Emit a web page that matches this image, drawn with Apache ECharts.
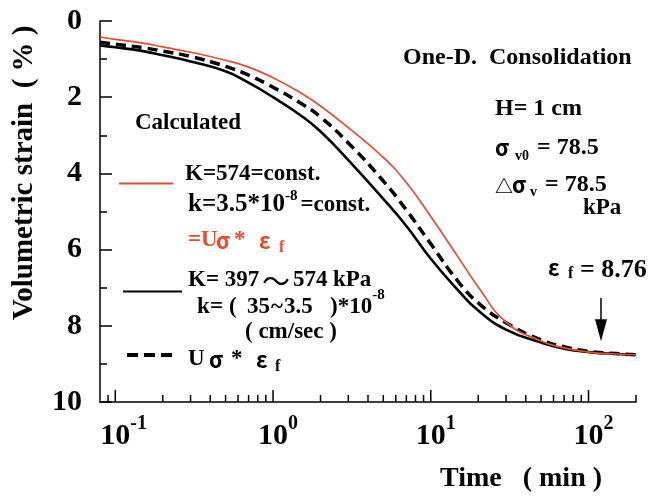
<!DOCTYPE html>
<html>
<head>
<meta charset="utf-8">
<script src="https://cdn.jsdelivr.net/npm/echarts@6/dist/echarts.min.js"></script>
<style>
  html, body { margin: 0; padding: 0; background: #fff; }
  #chart { width: 651px; height: 500px; }
</style>
</head>
<body>
<div id="chart"></div>
<script>
// Elapsed time (min), shared by the three calculated curves
const times = [0.08, 0.1, 0.15, 0.2, 0.3, 0.5, 0.7, 1, 1.5, 2, 3, 5, 7, 10, 15, 20, 30, 50, 70, 100, 150, 200];

// Volumetric strain (%) — constant K = 574, k = 3.5e-8
const strainConstK = [0.42, 0.48, 0.58, 0.68, 0.82, 1.03, 1.21, 1.49, 1.89, 2.23, 2.80, 3.58, 4.24, 5.13, 6.21, 6.98, 7.90, 8.40, 8.58, 8.69, 8.74, 8.76];
// Volumetric strain (%) — K = 397~574 kPa, k = (35~3.5)e-8
const strainVarK = [0.64, 0.69, 0.79, 0.90, 1.06, 1.32, 1.62, 2.00, 2.48, 2.90, 3.65, 4.67, 5.38, 6.24, 7.08, 7.60, 8.10, 8.44, 8.60, 8.69, 8.74, 8.76];
// Volumetric strain (%) — U_sigma * eps_f
const strainUSigma = [0.56, 0.61, 0.70, 0.79, 0.93, 1.19, 1.42, 1.74, 2.16, 2.52, 3.20, 4.20, 4.96, 5.85, 6.85, 7.40, 7.92, 8.37, 8.55, 8.67, 8.73, 8.76];

// Time axis ticks (log scale)
const xMajorTicks = [0.1, 1, 10, 100];
const xMajorExponents = ['-1', '0', '1', '2'];
const xMinorTicks = [0.09, 0.2, 0.3, 0.4, 0.5, 0.6, 0.7, 0.8, 0.9,
                     2, 3, 4, 5, 6, 7, 8, 9,
                     20, 30, 40, 50, 60, 70, 80, 90, 200];

// Strain axis
const yMin = 0, yMax = 10, yStep = 2;

// Final strain and the arrow pointing at it
const finalStrain = 8.76;
const arrowTime = 120;
const arrowFrom = 7.27;
const arrowTo = 8.12;

const RED = '#ea4b2d';
const serif = '"Liberation Serif", "Times New Roman", serif';
const greek = '"Noto Sans CJK JP", "Noto Sans", sans-serif';

const measureCtx = document.createElement('canvas').getContext('2d');
function fontOf(size, family, weight) {
  return (weight || 'bold') + ' ' + size + 'px ' + (family || serif);
}
function textWidth(text, font) {
  measureCtx.font = font;
  return measureCtx.measureText(text).width;
}

function txt(x, y, text, size, opt) {
  opt = opt || {};
  return {
    type: 'text', x: x, y: y, z: 20, silent: true,
    rotation: opt.rotation || 0,
    style: {
      text: text,
      fill: opt.color || '#000',
      font: fontOf(size, opt.font, opt.weight),
      align: opt.align || 'left',
      verticalAlign: 'middle'
    }
  };
}
// Lays out pieces one after another (base text, super/subscripts)
function run(x, y, parts, color) {
  const out = [];
  let cx = x;
  parts.forEach(p => {
    cx += p.gap || 0;
    const opt = { color: color, font: p.font, weight: p.weight };
    out.push(txt(cx, y + (p.dy || 0), p.t, p.size, opt));
    cx += textWidth(p.t, fontOf(p.size, p.font, p.weight));
  });
  return out;
}
function hline(x1, x2, y, color, width, dash) {
  return {
    type: 'line', z: 20, silent: true,
    shape: { x1: x1, y1: y, x2: x2, y2: y },
    style: { stroke: color, lineWidth: width, lineDash: dash || null }
  };
}

function tickSeries(values, len) {
  return {
    type: 'custom',
    data: values.map(v => [v]),
    clip: false,
    silent: true,
    z: 5,
    encode: { x: 0 },
    renderItem: function (params, api) {
      const p = api.coord([api.value(0), yMax]);
      return {
        type: 'line',
        shape: { x1: p[0], y1: p[1], x2: p[0], y2: p[1] - len },
        style: { stroke: '#000', lineWidth: 1.5 }
      };
    }
  };
}

const chart = echarts.init(document.getElementById('chart'), null, { renderer: 'canvas' });

const graphics = [].concat(
  // axis titles
  [txt(25, 320, 'Volumetric strain  ( % )', 29, { rotation: Math.PI / 2 }),
   txt(440, 479, 'Time   ( min )', 28),
   txt(135, 123, 'Calculated', 23)],

  // constant K entry
  [hline(119, 173, 183.5, RED, 2),
   txt(185, 174.5, 'K=574=const.', 23)],
  run(188, 205, [
    { t: 'k=3.5*10', size: 25 },
    { t: '-8', size: 15, dy: -9 },
    { t: '=const.', size: 23, gap: 3 }
  ]),
  [txt(188, 240.5, '=U', 23, { color: RED }),
   txt(216, 240.5, 'σ', 22, { color: RED, font: greek }),
   txt(234, 240.5, '*', 23, { color: RED }),
   txt(259, 240.5, 'ε', 22, { color: RED, font: greek }),
   txt(279, 248, 'f', 16, { color: RED })],

  // variable K entry
  [hline(123, 182, 291.5, '#000', 2),
   txt(188, 280.5, 'K= 397', 23),
   txt(262, 281, '～', 28, { font: greek, weight: 'normal' }),
   txt(293, 280.5, '574', 23),
   txt(333, 280.5, 'kPa', 23),
   txt(197, 307.5, 'k', 23),
   txt(210, 307.5, '=', 23),
   txt(229, 307.5, '(', 23),
   txt(247, 307.5, '35', 23),
   txt(271, 307.5, '~', 23),
   txt(284, 307.5, '3.5', 23)],
  run(330, 307.5, [
    { t: ')*10', size: 23 },
    { t: '-8', size: 15, dy: -12 }
  ]),
  [txt(245, 332.5, '( cm/sec )', 23)],

  // U sigma entry
  [hline(127, 177, 355, '#000', 4, [11, 6]),
   txt(188, 359.5, 'U', 23),
   txt(209, 359.5, 'σ', 22, { font: greek }),
   txt(231, 359.5, '*', 23),
   txt(256, 359.5, 'ε', 22, { font: greek }),
   txt(275, 367, 'f', 16)],

  // test conditions
  [txt(403, 58, 'One-D.  Consolidation', 24),
   txt(495, 108.5, 'H= 1 cm', 24),
   txt(495, 147.5, 'σ', 22, { font: greek }),
   txt(515, 156, 'v0', 14),
   txt(537, 147.5, '= 78.5', 24),
   txt(495, 186, '△', 18, { font: greek }),
   txt(512, 185, 'σ', 22, { font: greek }),
   txt(530, 192.5, 'v', 14),
   txt(545, 185, '= 78.5', 24),
   txt(583, 208.5, 'kPa', 23)],

  // final strain
  [txt(548, 268, 'ε', 22, { font: greek }),
   txt(568, 274, 'f', 16),
   txt(580, 270, '= ' + finalStrain.toFixed(2), 26)]
);

const option = {
  animation: false,
  backgroundColor: '#fff',
  grid: { left: 100, top: 21, width: 536, height: 381, containLabel: false },
  xAxis: {
    type: 'log',
    logBase: 10,
    min: 0.08,
    max: 200,
    axisLine: { onZero: false, lineStyle: { color: '#000', width: 1.5 } },
    axisTick: { show: false },
    splitLine: { show: false },
    axisLabel: {
      margin: 12,
      showMinLabel: false,
      showMaxLabel: false,
      formatter: function (v) {
        const i = xMajorTicks.findIndex(m => Math.abs(v - m) / m < 1e-6);
        if (i < 0) return '';
        const e = xMajorExponents[i];
        return '{pad|' + e + '}{base|10}{sup|' + e + '}';
      },
      rich: {
        base: { fontSize: 30, fontWeight: 'bold', fontFamily: serif, color: '#000', lineHeight: 44 },
        sup: { fontSize: 20, fontWeight: 'bold', fontFamily: serif, color: '#000', lineHeight: 20, verticalAlign: 'top' },
        pad: { fontSize: 20, fontWeight: 'bold', fontFamily: serif, color: 'rgba(0,0,0,0)', lineHeight: 20, verticalAlign: 'top' }
      }
    }
  },
  yAxis: {
    type: 'value',
    inverse: true,
    min: yMin,
    max: yMax,
    interval: yStep,
    axisLine: { onZero: false, lineStyle: { color: '#000', width: 1.5 } },
    axisTick: { show: true, inside: true, length: 12, lineStyle: { color: '#000', width: 1.5 } },
    minorTick: { show: true, splitNumber: 2, length: 7, lineStyle: { color: '#000', width: 1.5 } },
    splitLine: { show: false },
    axisLabel: { margin: 18, fontSize: 30, fontWeight: 'bold', fontFamily: serif, color: '#000' }
  },
  series: [
    {
      name: 'K = 397~574 kPa',
      type: 'line',
      data: times.map((t, i) => [t, strainVarK[i]]),
      showSymbol: false,
      smooth: 0.5,
      lineStyle: { color: '#000', width: 2.6 },
      z: 2
    },
    {
      name: 'U sigma * eps f',
      type: 'line',
      data: times.map((t, i) => [t, strainUSigma[i]]),
      showSymbol: false,
      smooth: 0.5,
      lineStyle: { color: '#000', width: 3.5, type: [10, 6] },
      z: 3,
      markLine: {
        silent: true,
        animation: false,
        symbol: ['none', 'triangle'],
        symbolSize: [12, 22],
        label: { show: false },
        lineStyle: { color: '#000', width: 1.5, type: 'solid' },
        data: [[{ coord: [arrowTime, arrowFrom] }, { coord: [arrowTime, arrowTo] }]]
      }
    },
    {
      name: 'K = 574 const.',
      type: 'line',
      data: times.map((t, i) => [t, strainConstK[i]]),
      showSymbol: false,
      smooth: 0.5,
      lineStyle: { color: RED, width: 1.7 },
      z: 4
    },
    tickSeries(xMajorTicks, 12),
    tickSeries(xMinorTicks, 7)
  ],
  graphic: graphics
};

chart.setOption(option);
</script>
</body>
</html>
